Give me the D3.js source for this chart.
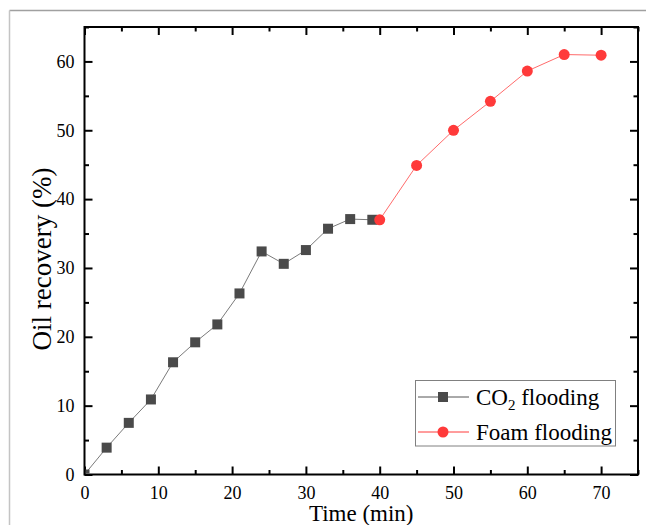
<!DOCTYPE html>
<html>
<head>
<meta charset="utf-8">
<script src="https://cdn.jsdelivr.net/npm/d3@7"></script>
<style>
  body { margin: 0; background: #fff; }
  svg { display: block; }
  text { font-family: "Liberation Serif", "Times New Roman", serif; fill: #000; }
</style>
</head>
<body>
<div id="chart"></div>
<script>
var width = 646
var height = 525

// data
var co2Time = [0, 3, 6, 9, 12, 15, 18, 21, 24, 27, 30, 33, 36, 39]
var co2Recovery = [0, 3.9, 7.5, 10.9, 16.3, 19.2, 21.8, 26.3, 32.4, 30.6, 32.6, 35.7, 37.1, 37.0]
var foamTime = [40, 45, 50, 55, 60, 65, 70]
var foamRecovery = [37.0, 44.9, 50.0, 54.2, 58.6, 61.0, 60.9]
var xTicks = [0, 10, 20, 30, 40, 50, 60, 70]
var yTicks = [0, 10, 20, 30, 40, 50, 60]

var plotLeft = 84.5, plotRight = 638, plotTop = 27, plotBottom = 474.5

var svg = d3.select("#chart")
    .append("svg")
        .attr("width", width)
        .attr("height", height)

// outer grey frame of the figure
svg.append("line").attr("x1", 9.5).attr("x2", width).attr("y1", 10.5).attr("y2", 10.5)
    .attr("stroke", "#a0a0a0").attr("stroke-width", 1.5)
svg.append("line").attr("x1", 9.5).attr("x2", 9.5).attr("y1", 10.5).attr("y2", height)
    .attr("stroke", "#c4c4c4").attr("stroke-width", 1.5)

var x = d3.scaleLinear().domain([0, 75]).range([plotLeft, plotRight])
var y = d3.scaleLinear().domain([0, 65]).range([plotBottom, plotTop])

function styleAxis(g) {
    g.select(".domain").remove()
    g.selectAll(".tick line").attr("stroke", "#000").attr("stroke-width", 2)
    g.selectAll("text").attr("font-size", 18).attr("font-family", "Liberation Serif, serif")
}

var minorX = d3.range(5, 80, 10)
var minorY = d3.range(5, 70, 10)

// bottom axis
svg.append("g").attr("transform", "translate(0," + plotBottom + ")")
    .call(d3.axisBottom(x).tickValues(xTicks).tickSize(-8).tickPadding(12).tickSizeOuter(0))
    .call(styleAxis)
svg.append("g").attr("transform", "translate(0," + plotBottom + ")")
    .call(d3.axisBottom(x).tickValues(minorX).tickSize(-4.5).tickFormat("").tickSizeOuter(0))
    .call(styleAxis)
// top axis
svg.append("g").attr("transform", "translate(0," + plotTop + ")")
    .call(d3.axisTop(x).tickValues(xTicks).tickSize(-8).tickFormat("").tickSizeOuter(0))
    .call(styleAxis)
svg.append("g").attr("transform", "translate(0," + plotTop + ")")
    .call(d3.axisTop(x).tickValues(minorX).tickSize(-4.5).tickFormat("").tickSizeOuter(0))
    .call(styleAxis)
// left axis
svg.append("g").attr("transform", "translate(" + plotLeft + ",0)")
    .call(d3.axisLeft(y).tickValues(yTicks).tickSize(-8).tickPadding(10).tickSizeOuter(0))
    .call(styleAxis)
svg.append("g").attr("transform", "translate(" + plotLeft + ",0)")
    .call(d3.axisLeft(y).tickValues(minorY).tickSize(-4.5).tickFormat("").tickSizeOuter(0))
    .call(styleAxis)
// right axis
svg.append("g").attr("transform", "translate(" + plotRight + ",0)")
    .call(d3.axisRight(y).tickValues(yTicks).tickSize(-8).tickFormat("").tickSizeOuter(0))
    .call(styleAxis)
svg.append("g").attr("transform", "translate(" + plotRight + ",0)")
    .call(d3.axisRight(y).tickValues(minorY).tickSize(-4.5).tickFormat("").tickSizeOuter(0))
    .call(styleAxis)

svg.append("rect")
    .attr("x", plotLeft).attr("y", plotTop)
    .attr("width", plotRight - plotLeft).attr("height", plotBottom - plotTop)
    .attr("fill", "none").attr("stroke", "#000").attr("stroke-width", 2)

svg.append("clipPath").attr("id", "plotClip")
    .append("rect")
        .attr("x", plotLeft + 1).attr("y", plotTop + 1)
        .attr("width", plotRight - plotLeft - 2).attr("height", plotBottom - plotTop - 2)

var plot = svg.append("g").attr("clip-path", "url(#plotClip)")

var co2 = co2Time.map(function(t, i){ return [t, co2Recovery[i]] })
var foam = foamTime.map(function(t, i){ return [t, foamRecovery[i]] })

var line = d3.line()
    .x(function(d){ return x(d[0]) })
    .y(function(d){ return y(d[1]) })

var co2Color = "#4a4a4a"
var foamColor = "#ff3a3a"

plot.append("path").datum(co2)
    .attr("d", line).attr("fill", "none")
    .attr("stroke", "#7a7a7a").attr("stroke-width", 1)
plot.selectAll(".sq").data(co2).enter().append("rect")
    .attr("class", "sq")
    .attr("x", function(d){ return x(d[0]) - 5 })
    .attr("y", function(d){ return y(d[1]) - 5 })
    .attr("width", 10).attr("height", 10)
    .attr("fill", co2Color)

plot.append("path").datum(foam)
    .attr("d", line).attr("fill", "none")
    .attr("stroke", "#ff6b6b").attr("stroke-width", 1)
plot.selectAll(".dot").data(foam).enter().append("circle")
    .attr("class", "dot")
    .attr("cx", function(d){ return x(d[0]) })
    .attr("cy", function(d){ return y(d[1]) })
    .attr("r", 5.5)
    .attr("fill", foamColor)

// axis titles
svg.append("text")
    .attr("x", (plotLeft + plotRight) / 2).attr("y", 521)
    .attr("text-anchor", "middle").attr("font-size", 23)
    .text("Time (min)")
svg.append("text")
    .attr("transform", "translate(51,259) rotate(-90)")
    .attr("text-anchor", "middle").attr("font-size", 27)
    .text("Oil recovery (%)")

// legend
var legend = svg.append("g")
legend.append("rect")
    .attr("x", 415.5).attr("y", 380.5).attr("width", 200).attr("height", 65.5)
    .attr("fill", "#fff").attr("stroke", "#808080").attr("stroke-width", 1)

var rows = [
    {y: 397, stroke: "#555", fill: co2Color, shape: "square"},
    {y: 432, stroke: "#ff3a3a", fill: foamColor, shape: "circle"}
]
rows.forEach(function(r){
    legend.append("line")
        .attr("x1", 418).attr("x2", 469).attr("y1", r.y).attr("y2", r.y)
        .attr("stroke", r.stroke).attr("stroke-width", 1)
    if (r.shape === "square") {
        legend.append("rect").attr("x", 438).attr("y", r.y - 5)
            .attr("width", 10).attr("height", 10).attr("fill", r.fill)
    } else {
        legend.append("circle").attr("cx", 443).attr("cy", r.y).attr("r", 5.5).attr("fill", r.fill)
    }
})

var t1 = legend.append("text").attr("x", 476).attr("y", 405).attr("font-size", 23)
t1.append("tspan").text("CO")
t1.append("tspan").attr("font-size", 15).attr("dy", 5).text("2")
t1.append("tspan").attr("dy", -5).text(" flooding")

legend.append("text").attr("x", 476).attr("y", 440).attr("font-size", 23)
    .text("Foam flooding")
</script>
</body>
</html>
